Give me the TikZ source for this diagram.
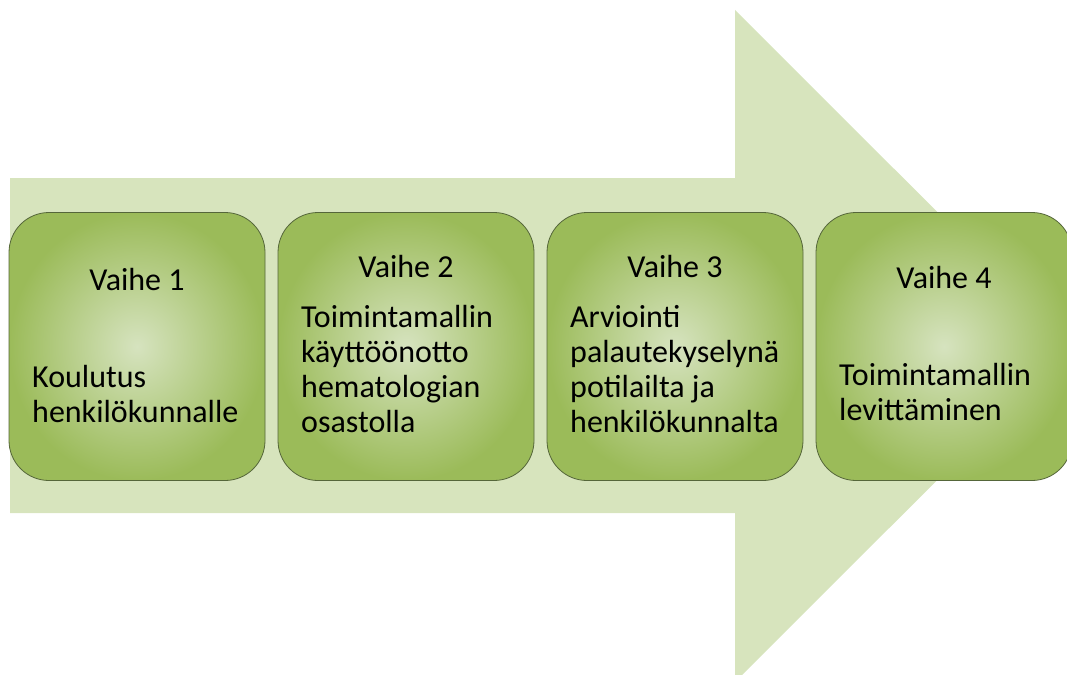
\documentclass[tikz,border=0pt]{standalone}
\usepackage{fontspec}
\setmainfont{Carlito}
\definecolor{arrowfill}{HTML}{D7E4BD}
\definecolor{boxouter}{HTML}{9BBB59}
\definecolor{boxinner}{HTML}{D6E3BF}
\definecolor{boxline}{HTML}{55663A}
\begin{document}
\begin{tikzpicture}[x=1pt,y=-1pt,
  stagebox/.style={draw=boxline, line width=0.8pt, rounded corners=40pt,
    minimum width=256pt, minimum height=268pt, inner sep=0pt,
    inner color=boxinner, outer color=boxouter},
  titletext/.style={font=\fontsize{32}{35}\selectfont, anchor=base, inner sep=0pt},
  bodytext/.style={font=\fontsize{32}{35}\selectfont, anchor=base west, align=left, inner sep=0pt}]
\useasboundingbox (0,0) rectangle (1067,674);
\clip (0,0) rectangle (1067,674);
% big arrow
\fill[arrowfill] (10,178) -- (735,178) -- (735,10) -- (1071.5,346) -- (735,682) -- (735,513) -- (10,513) -- cycle;
% stage boxes
\node[stagebox] (b1) at (137,346.5) {};
\node[stagebox] (b2) at (406,346.5) {};
\node[stagebox] (b3) at (675,346.5) {};
\node[stagebox] (b4) at (944,346.5) {};
% texts (body anchors are on the baseline of the last line)
\node[titletext] (t1) at (137,290) {Vaihe 1};
\node[bodytext] (d1) at (32,422) {Koulutus\\henkilökunnalle};
\node[titletext] (t2) at (406,277) {Vaihe 2};
\node[bodytext] (d2) at (301,432) {Toimintamallin\\käyttöönotto\\hematologian\\osastolla};
\node[titletext] (t3) at (675,277) {Vaihe 3};
\node[bodytext] (d3) at (570,432) {Arviointi\\palautekyselynä\\potilailta ja\\henkilökunnalta};
\node[titletext] (t4) at (944,288) {Vaihe 4};
\node[bodytext] (d4) at (839,420) {Toimintamallin\\levittäminen};
\end{tikzpicture}
\end{document}
